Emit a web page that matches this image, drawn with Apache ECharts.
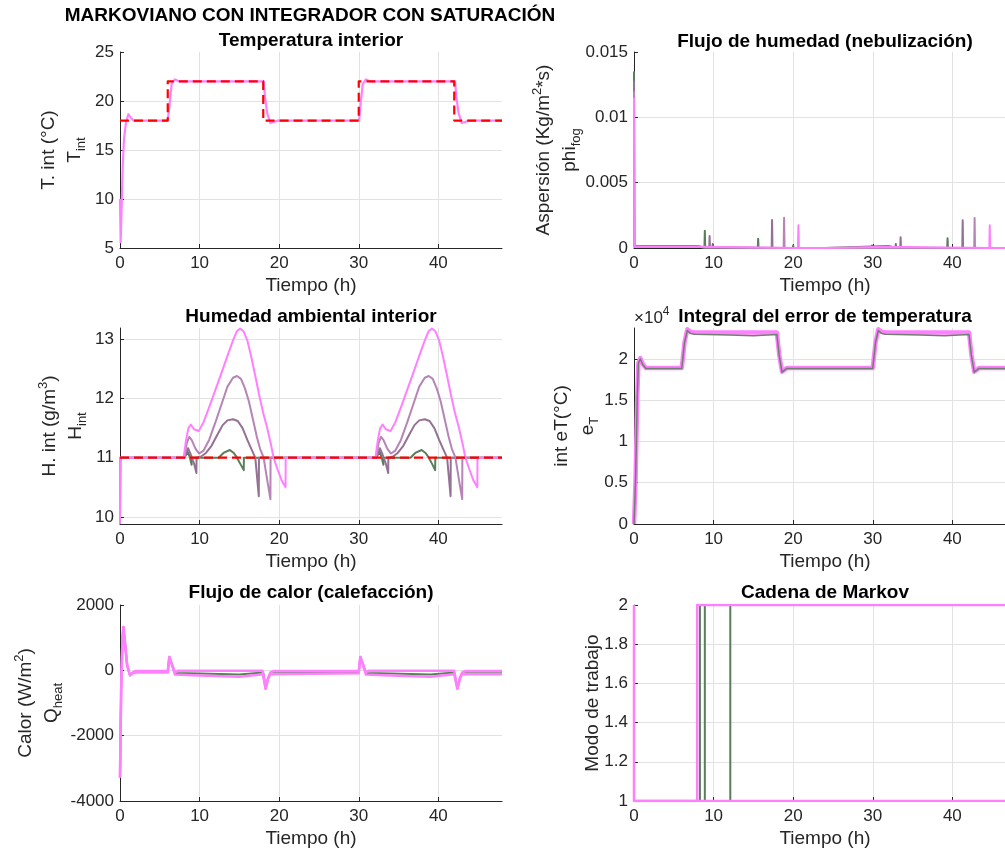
<!DOCTYPE html>
<html>
<head>
<meta charset="utf-8">
<script src="https://cdn.jsdelivr.net/npm/echarts@6/dist/echarts.min.js"></script>
<style>
html, body { margin: 0; background: #fff; }
#chart { width: 1005px; height: 852px; }
</style>
</head>
<body>
<div id="chart"></div>
<script>
// ---- datos: [tiempo (h), valor] ----
// Temperatura interior
const tempRef = [[0, 18], [6, 18], [6, 22], [18, 22], [18, 18], [30, 18], [30, 22], [42, 22], [42, 18], [48, 18]]
const tempInt = [[0, 10], [0.08, 5.6], [0.2, 9], [0.35, 13.5], [0.5, 16.1], [0.75, 17.8], [1.05, 18.65], [1.35, 18.3], [1.7, 18.0],
  [6.0, 18.0], [6.25, 19.8], [6.5, 21.8], [6.9, 22.2], [7.5, 22.0], [18.05, 22.0], [18.25, 20.2], [18.5, 18.75], [18.9, 17.75],
  [19.3, 17.85], [19.8, 18.0], [30.05, 18.0], [30.25, 19.8], [30.5, 21.7], [30.9, 22.2], [31.5, 22.0], [42.1, 22.0], [42.3, 20.2],
  [42.55, 18.75], [42.95, 17.75], [43.35, 17.85], [43.85, 18.0], [48, 18.0]]

// Flujo de humedad (nebulizacion)
const phi1 = [[0, 0.0135], [0.04, 0.00015], [8.0, 0.00015], [8.05, 0], [8.85, 0], [8.9, 0.00132], [8.95, 0], [9.85, 0], [9.9, 0.0003], [9.95, 0],
  [15.55, 0], [15.6, 0.0007], [15.65, 0], [19.95, 0], [20.0, 0.0002], [20.05, 0], [24.0, 0], [24.05, 0.00015], [32.0, 0.00015], [32.05, 0],
  [32.85, 0], [32.9, 0.0003], [32.95, 0], [39.35, 0], [39.4, 0.00075], [39.45, 0], [48, 0]]
const phi2 = [[0, 0.0128], [0.04, 0.00012], [8.0, 0.00012], [8.05, 0], [9.45, 0], [9.5, 0.00092], [9.55, 0], [17.3, 0], [17.35, 0.00214], [17.4, 0],
  [29.85, 0], [29.9, 0.0002], [29.95, 0], [33.45, 0], [33.5, 0.00082], [33.55, 0], [41.25, 0], [41.3, 0.00212], [41.35, 0], [48, 0]]
const phi3 = [[0, 0.012], [0.04, 0.0001], [8, 0.0001], [8.05, 0], [18.8, 0], [18.86, 0.00232], [18.92, 0], [42.75, 0], [42.8, 0.0023], [42.85, 0], [48, 0]]
const phi4 = [[0, 0.0115], [0.04, 0.0001], [7.9, 0.0001], [7.95, 0], [20.6, 0], [20.66, 0.00174], [20.72, 0], [24.0, 0], [24.05, 0.0001],
  [31.9, 0.0001], [31.95, 0], [44.65, 0], [44.7, 0.00174], [44.75, 0], [48, 0]]

// Humedad ambiental interior
const humRef = [[0, 11], [48, 11]]
const hum1 = [[0, 9.88], [0.03, 11], [8.1, 11], [8.5, 11.1], [8.75, 11.02], [9.0, 10.88], [9.02, 11], [12.4, 11], [13.0, 11.08], [13.8, 11.13],
  [14.3, 11.08], [14.7, 11.0], [15.1, 10.9], [15.55, 10.79], [15.57, 11], [32.2, 11], [32.6, 11.1], [32.85, 11.02], [33.1, 10.88], [33.12, 11],
  [36.5, 11], [37.1, 11.08], [37.9, 11.13], [38.4, 11.08], [38.8, 11.0], [39.2, 10.9], [39.6, 10.79], [39.62, 11], [48, 11]]
const hum2 = [[0, 9.88], [0.03, 11], [8.1, 11], [8.55, 11.16], [8.9, 11.05], [9.3, 10.9], [9.6, 10.74], [9.62, 11], [10.2, 11.02], [10.8, 11.08],
  [11.5, 11.2], [12.2, 11.38], [12.9, 11.55], [13.5, 11.63], [14.2, 11.65], [14.8, 11.62], [15.4, 11.5], [16.0, 11.3], [16.5, 11.15], [17.0, 11.0],
  [17.44, 10.35], [17.46, 11], [32.2, 11], [32.65, 11.16], [33.0, 11.05], [33.4, 10.9], [33.7, 10.74], [33.72, 11], [34.3, 11.02], [34.9, 11.08],
  [35.6, 11.2], [36.3, 11.38], [37.0, 11.55], [37.6, 11.63], [38.3, 11.65], [38.9, 11.62], [39.5, 11.5], [40.1, 11.3], [40.6, 11.15], [41.1, 11.0],
  [41.54, 10.35], [41.56, 11], [48, 11]]
const hum3 = [[0, 9.88], [0.03, 11], [8.1, 11], [8.4, 11.25], [8.7, 11.35], [9.0, 11.3], [9.5, 11.15], [9.95, 11.07], [10.5, 11.12], [11.2, 11.3],
  [12.0, 11.6], [12.8, 11.92], [13.5, 12.2], [14.2, 12.35], [14.7, 12.38], [15.2, 12.33], [15.7, 12.17], [16.2, 11.95], [16.7, 11.65], [17.2, 11.35],
  [17.6, 11.15], [18.05, 11.0], [18.5, 10.62], [18.9, 10.3], [18.92, 11], [32.2, 11], [32.5, 11.25], [32.8, 11.35], [33.1, 11.3], [33.6, 11.15],
  [34.05, 11.07], [34.6, 11.12], [35.3, 11.3], [36.1, 11.6], [36.9, 11.92], [37.6, 12.2], [38.3, 12.35], [38.8, 12.38], [39.3, 12.33], [39.8, 12.17],
  [40.3, 11.95], [40.8, 11.65], [41.3, 11.35], [41.7, 11.15], [42.15, 11.0], [42.6, 10.62], [43.0, 10.3], [43.02, 11], [48, 11]]
const hum4 = [[0, 9.88], [0.03, 11], [8.0, 11], [8.3, 11.3], [8.6, 11.5], [8.9, 11.56], [9.3, 11.48], [9.9, 11.45], [10.5, 11.6], [11.2, 11.85],
  [12.0, 12.15], [12.8, 12.45], [13.5, 12.72], [14.2, 12.98], [14.7, 13.14], [15.1, 13.18], [15.5, 13.14], [16.0, 12.98], [16.5, 12.7], [17.0, 12.38],
  [17.5, 12.05], [18.0, 11.75], [18.5, 11.5], [19.0, 11.2], [19.3, 11.0], [19.8, 10.8], [20.3, 10.62], [20.8, 10.5], [20.82, 11], [32.1, 11],
  [32.4, 11.3], [32.7, 11.5], [33.0, 11.56], [33.4, 11.48], [34.0, 11.45], [34.6, 11.6], [35.3, 11.85], [36.1, 12.15], [36.9, 12.45], [37.6, 12.72],
  [38.3, 12.98], [38.8, 13.14], [39.2, 13.18], [39.6, 13.14], [40.1, 12.98], [40.6, 12.7], [41.1, 12.38], [41.6, 12.05], [42.1, 11.75], [42.6, 11.5],
  [43.1, 11.2], [43.4, 11.0], [43.9, 10.8], [44.4, 10.62], [44.9, 10.5], [44.92, 11], [48, 11]]

// Integral del error de temperatura
const eT4 = [[0, 0], [0.2, 5400], [0.4, 15000], [0.55, 19500], [0.8, 20100], [1.1, 19400], [1.5, 18900], [6.0, 18900], [6.35, 22000],
  [6.7, 23600], [7.1, 23300], [7.6, 23200], [17.95, 23200], [18.25, 20500], [18.6, 18450], [19.2, 18900], [30.0, 18900], [30.35, 22000],
  [30.7, 23600], [31.1, 23300], [31.6, 23200], [42.1, 23200], [42.4, 20500], [42.75, 18450], [43.35, 18900], [48, 18900]]
const eT2 = [[0, 0], [0.2, 5400], [0.4, 15000], [0.55, 19500], [0.8, 20000], [1.1, 19300], [1.5, 18850], [6.0, 18850], [6.35, 22000],
  [6.7, 23450], [7.1, 23100], [7.6, 23000], [12, 22900], [15, 22800], [17.95, 22950], [18.25, 20400], [18.6, 18400], [19.2, 18850],
  [30.0, 18850], [30.35, 22000], [30.7, 23450], [31.1, 23100], [31.6, 23000], [36, 22900], [39, 22800], [42.1, 22950], [42.4, 20400],
  [42.75, 18400], [43.35, 18850], [48, 18850]]

// Flujo de calor (calefaccion)
const q1 = [[0, -3280], [0.15, -500], [0.3, 900], [0.42, 1330], [0.6, 900], [0.9, 150], [1.26, -150], [1.6, -70], [2.0, -50], [6.0, -50],
  [6.2, 410], [6.5, 200], [6.9, -80], [10, -100], [15, -130], [18, -70], [18.3, -560], [18.6, -250], [18.9, -90], [24, -80], [30, -60],
  [30.2, 410], [30.5, 200], [30.9, -80], [34, -100], [39, -130], [42, -70], [42.4, -560], [42.7, -250], [43, -90], [48, -90]]
const q3 = [[0, -3280], [0.15, -500], [0.3, 900], [0.42, 1330], [0.6, 900], [0.9, 150], [1.26, -150], [1.6, -90], [2.0, -70], [6.0, -70],
  [6.2, 410], [6.5, 200], [6.9, -130], [10, -160], [15, -200], [18, -120], [18.3, -560], [18.6, -250], [18.9, -120], [24, -105], [30, -90],
  [30.2, 410], [30.5, 200], [30.9, -130], [34, -160], [39, -200], [42, -120], [42.4, -560], [42.7, -250], [43, -120], [48, -120]]
const q4 = [[0, -3280], [0.15, -500], [0.3, 900], [0.42, 1330], [0.6, 900], [0.9, 150], [1.26, -150], [1.6, -60], [2.0, -20], [6.0, -20],
  [6.2, 410], [6.5, 200], [6.9, -60], [7.3, -10], [17.9, -10], [18.05, -250], [18.3, -560], [18.6, -250], [18.9, -60], [19.3, -20], [30.0, -20],
  [30.2, 410], [30.5, 200], [30.9, -60], [31.3, -10], [42.0, -10], [42.15, -250], [42.4, -560], [42.7, -250], [43.0, -60], [43.4, -20], [48, -20]]

// Cadena de Markov (modo de trabajo)
const mk1 = [[0, 1], [8.28, 1], [8.28, 2], [8.9, 2], [8.9, 1], [12.1, 1], [12.1, 2], [48, 2]]
const mk4a = [[0, 2], [0, 1], [48, 1]]
const mk4b = [[0, 1], [7.94, 1], [7.94, 2], [48, 2]]

// ---- estilo ----
const FONT = '"Liberation Sans", Arial, Helvetica, sans-serif'
const INK = '#262626'
const GRIDLINE = '#e2e2e2'
const C1 = '#5a7d5a'
const C2 = '#937293'
const C3 = '#b585b5'
const C4 = '#ff80ff'

const grids = [
  { left: 120, top: 52 }, { left: 634, top: 52 },
  { left: 120, top: 328 }, { left: 634, top: 328 },
  { left: 120, top: 605 }, { left: 634, top: 605 }
].map(g => ({ ...g, width: 382, height: 196, containLabel: false, outerBoundsMode: 'none' }))

const xAxes = grids.map((g, i) => ({
  type: 'value', gridIndex: i, min: 0, max: 48, interval: 10,
  name: 'Tiempo (h)', nameLocation: 'middle', nameGap: 28,
  nameTextStyle: { color: INK, fontSize: 19, fontFamily: FONT },
  axisLine: { show: true, onZero: false, lineStyle: { color: INK, width: 1 } },
  axisTick: { show: true, inside: true, length: 4, lineStyle: { color: INK } },
  axisLabel: { color: INK, fontSize: 17, fontFamily: FONT, margin: 7, showMaxLabel: false },
  splitLine: { show: true, showMinLine: false, showMaxLine: false, lineStyle: { color: GRIDLINE, width: 1 } }
}))

const yAxis = (i, range, label) => ({
  type: 'value', gridIndex: i, ...range,
  axisLine: { show: true, onZero: false, lineStyle: { color: INK, width: 1 } },
  axisTick: { show: true, inside: true, length: 4, lineStyle: { color: INK } },
  axisLabel: { color: INK, fontSize: 17, fontFamily: FONT, margin: 6, ...label },
  splitLine: { show: true, showMinLine: false, showMaxLine: false, lineStyle: { color: GRIDLINE, width: 1 } }
})

const yAxes = [
  yAxis(0, { min: 5, max: 25, interval: 5 }, {}),
  yAxis(1, { min: 0, max: 0.015, interval: 0.005 }, {}),
  yAxis(2, { min: 9.88, max: 13.19, splitNumber: 3, minInterval: 1, maxInterval: 1 }, { showMinLabel: false, showMaxLabel: false }),
  yAxis(3, { min: 0, max: 23750, splitNumber: 5, minInterval: 5000, maxInterval: 5000 },
    { showMaxLabel: false, formatter: v => String(v / 10000) }),
  yAxis(4, { min: -4000, max: 2000, interval: 2000 }, { formatter: v => String(v) }),
  yAxis(5, { min: 1, max: 2, interval: 0.2 }, {})
]

const line = (i, data, color, width, dash) => ({
  type: 'line', xAxisIndex: i, yAxisIndex: i, data,
  showSymbol: false, symbol: 'none', silent: true, animation: false,
  lineStyle: { color, width, type: dash || 'solid', cap: 'butt', join: 'round' },
  itemStyle: { color }
})

const series = [
  line(0, tempInt, C4, 2.2),
  line(0, tempRef, '#ff0000', 2.2, [9, 5]),

  line(1, phi1, C1, 2),
  line(1, phi2, C2, 2),
  line(1, phi3, C3, 2),
  line(1, phi4, C4, 2),

  line(2, hum1, C1, 2),
  line(2, hum2, C2, 2),
  line(2, hum3, C3, 2),
  line(2, hum4, C4, 2),
  line(2, humRef, '#ff0000', 2.2, [9, 5]),

  line(3, eT4, C4, 4.5),
  line(3, eT2, '#6f7f6f', 1.5),

  line(4, q1, C1, 2),
  line(4, q3, C4, 2.5),
  line(4, q4, C4, 2.5),

  line(5, mk1, C1, 2),
  line(5, mk4a, C4, 2.5),
  line(5, mk4b, C4, 2.5)
]

const RICH = {
  n: { fontSize: 19, fontFamily: FONT, lineHeight: 26, verticalAlign: 'middle', fill: INK },
  sb: { fontSize: 13, fontFamily: FONT, lineHeight: 13, verticalAlign: 'bottom', fill: INK },
  sp: { fontSize: 13, fontFamily: FONT, lineHeight: 13, verticalAlign: 'top', fill: INK }
}

const yLabel = (x, y, text) => ({
  type: 'text', x, y, rotation: Math.PI / 2, silent: true,
  style: { text, rich: RICH, align: 'center', verticalAlign: 'middle', fill: INK, fontSize: 19, fontFamily: FONT }
})

const heading = (x, y, text) => ({
  type: 'text', x, y, silent: true,
  style: { text, align: 'center', verticalAlign: 'middle', fill: '#000', fontSize: 19, fontWeight: 'bold', fontFamily: FONT }
})

const graphics = [
  heading(310, 16, 'MARKOVIANO CON INTEGRADOR CON SATURACIÓN'),
  heading(311, 41, 'Temperatura interior'),
  heading(825, 42, 'Flujo de humedad (nebulización)'),
  heading(311, 317, 'Humedad ambiental interior'),
  heading(825, 317, 'Integral del error de temperatura'),
  heading(311, 593, 'Flujo de calor (calefacción)'),
  heading(825, 593, 'Cadena de Markov'),

  yLabel(62, 150, '{n|T. int (°C)}\n{n|T}{sb|int}'),
  yLabel(557, 150, '{n|Aspersión (Kg/m}{sp|2}{n|*s)}\n{n|phi}{sb|fog}'),
  yLabel(63, 426, '{n|H. int (g/m}{sp|3}{n|)}\n{n|H}{sb|int}'),
  yLabel(575, 426, '{n|int eT(°C)}\n{n|e}{sb|T}'),
  yLabel(39, 703, '{n|Calor (W/m}{sp|2}{n|)}\n{n|Q}{sb|heat}'),
  yLabel(593, 703, '{n|Modo de trabajo}'),

  {
    type: 'text', x: 634, y: 318, silent: true,
    style: {
      text: '{a|×10}{b|4}', align: 'left', verticalAlign: 'middle', fill: INK,
      rich: {
        a: { fontSize: 17, fontFamily: FONT, lineHeight: 24, verticalAlign: 'middle', fill: INK },
        b: { fontSize: 12, fontFamily: FONT, lineHeight: 12, verticalAlign: 'top', fill: INK }
      }
    }
  }
]

const chart = echarts.init(document.getElementById('chart'), null, { renderer: 'canvas' })
chart.setOption({
  backgroundColor: '#ffffff',
  animation: false,
  grid: grids,
  xAxis: xAxes,
  yAxis: yAxes,
  series,
  graphic: { elements: graphics }
})
</script>
</body>
</html>
